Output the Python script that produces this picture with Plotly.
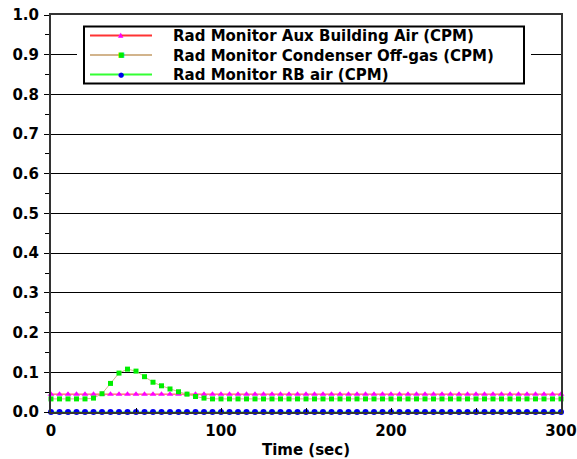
import plotly.graph_objects as go

# Time axis: samples every 5 s from 0 to 300 s
time_s = list(range(0, 301, 5))

# Aux building air monitor: flat reading
aux_building_air = [0.045] * len(time_s)

# Condenser off-gas monitor: baseline with a transient near 45 s
offgas_head = [0.033, 0.033, 0.033, 0.033, 0.033, 0.035, 0.046, 0.072, 0.098,
               0.108, 0.103, 0.089, 0.075, 0.066, 0.058, 0.051, 0.045, 0.039,
               0.035, 0.033]
condenser_offgas = offgas_head + [0.033] * (len(time_s) - len(offgas_head))

# Reactor building air monitor: zero throughout
rb_air = [0.0] * len(time_s)

series_names = [
    "Rad Monitor Aux Building Air (CPM)",
    "Rad Monitor Condenser Off-gas (CPM)",
    "Rad Monitor RB air (CPM)",
]
line_colors = ["#ff3333", "#d2b48c", "#33ff33"]
marker_colors = ["#ff00ff", "#00ee00", "#0000ee"]
marker_symbols = ["triangle-up", "square", "circle"]
marker_sizes = [6, 5, 6]
legend_glyphs = ["\u25b2", "\u25a0", "\u25cf"]

FONT = "DejaVu Sans"
KEY_SIZE = 15

W, H = 577, 459
ml, mr, mt, mb = 51, 16, 15, 47
pw = W - ml - mr
ph = H - mt - mb


def px_x(px):
    return (px - ml) / pw


def px_y(py):
    return (H - mb - py) / ph


fig = go.Figure()
for name, ys, lc, mc, sym, ms in zip(series_names,
                                     [aux_building_air, condenser_offgas, rb_air],
                                     line_colors, marker_colors, marker_symbols,
                                     marker_sizes):
    fig.add_trace(go.Scatter(
        x=time_s, y=ys, name=name, mode="lines+markers",
        line=dict(color=lc, width=1),
        marker=dict(symbol=sym, size=ms, color=mc),
        cliponaxis=False, showlegend=False,
    ))

# Boxed key in the upper part of the plot, with a white clearance around it
key_mid = 55
row_gap = KEY_SIZE * 1.3
row_y = [key_mid - row_gap, key_mid, key_mid + row_gap]
key_top = row_y[0] - 9
key_bottom = row_y[-1] + 9

fig.add_shape(type="rect", xref="paper", yref="paper",
              x0=px_x(77), x1=px_x(531), y0=px_y(key_bottom + 4), y1=px_y(key_top - 4),
              fillcolor="white", line=dict(width=0), layer="above")
fig.add_shape(type="rect", xref="paper", yref="paper",
              x0=px_x(84), x1=px_x(524), y0=px_y(key_bottom), y1=px_y(key_top),
              fillcolor="white", line=dict(color="black", width=2), layer="above")

for lc, mc, glyph, ry in zip(line_colors, marker_colors, legend_glyphs, row_y):
    fig.add_shape(type="line", xref="paper", yref="paper",
                  x0=px_x(90), x1=px_x(152), y0=px_y(ry), y1=px_y(ry),
                  line=dict(color=lc, width=2), layer="above")
    fig.add_annotation(xref="paper", yref="paper", x=px_x(121), y=px_y(ry),
                       text=glyph, showarrow=False, xanchor="center", yanchor="middle",
                       font=dict(family=FONT, size=7, color=mc))

fig.add_annotation(xref="paper", yref="paper", x=px_x(172), y=px_y(key_mid),
                   text="<br>".join(series_names), showarrow=False, align="left",
                   xanchor="left", yanchor="middle", borderpad=0,
                   font=dict(family=FONT, size=KEY_SIZE, color="black", weight="bold"))

tick_font = dict(family=FONT, size=15, color="black", weight="bold")

fig.update_layout(
    width=W, height=H,
    margin=dict(l=ml, r=mr, t=mt, b=mb, autoexpand=False),
    paper_bgcolor="white", plot_bgcolor="white",
    showlegend=False,
    xaxis=dict(
        range=[0, 300], dtick=100, showgrid=False, zeroline=False,
        showline=True, linecolor="#333333", linewidth=2, mirror=True,
        ticks="inside", ticklen=4, tickcolor="black",
        minor=dict(dtick=50, ticks="inside", ticklen=4, tickcolor="black"),
        tickfont=tick_font, ticklabelstandoff=4, automargin=False,
        title=dict(text="Time (sec)", font=dict(family=FONT, size=15, color="black", weight="bold"),
                   standoff=5),
    ),
    yaxis=dict(
        range=[0, 1], dtick=0.1, tickformat=".1f",
        showgrid=True, gridcolor="black", gridwidth=1, zeroline=False,
        showline=True, linecolor="#333333", linewidth=2, mirror=True,
        ticks="outside", ticklen=5, tickcolor="black",
        minor=dict(dtick=0.05, ticks="outside", ticklen=4, tickcolor="black", showgrid=False),
        tickfont=tick_font, ticklabelstandoff=2, automargin=False,
    ),
    yaxis2=dict(
        range=[0, 1], overlaying="y", side="left", anchor="x",
        showgrid=False, zeroline=False, showticklabels=False, showline=False,
        ticks="", dtick=0.1, automargin=False,
        minor=dict(dtick=0.05, ticks="inside", ticklen=4, tickcolor="black", showgrid=False),
    ),
)

fig.write_html("out.html")
